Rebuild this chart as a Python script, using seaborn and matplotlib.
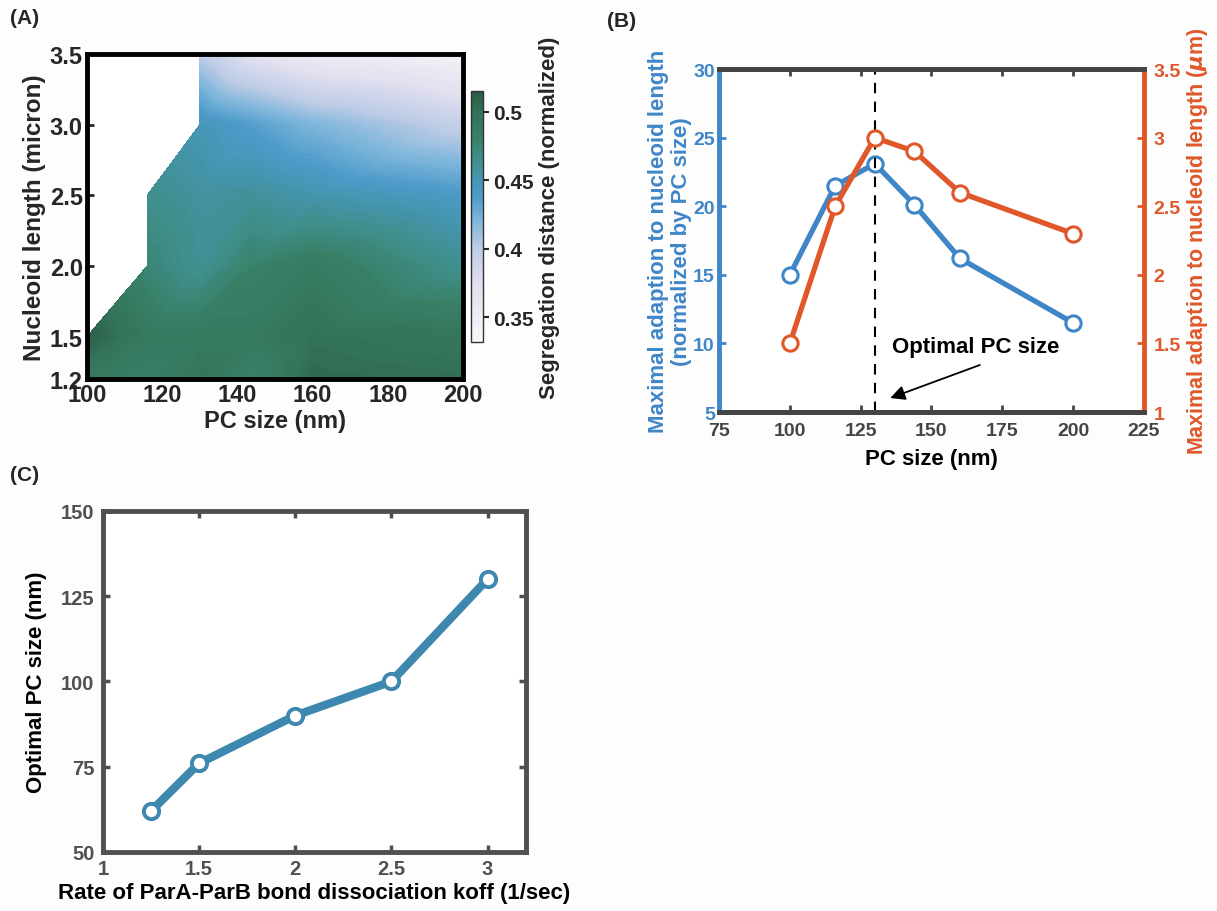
import numpy as np
import matplotlib
matplotlib.use("Agg")
import matplotlib.pyplot as plt
import matplotlib.tri as mtri
from matplotlib.colors import LinearSegmentedColormap
import seaborn as sns

sns.set_style("ticks")
plt.rcParams['font.family'] = ['Liberation Sans', 'DejaVu Sans']
plt.rcParams['font.weight'] = 'bold'
plt.rcParams['axes.labelweight'] = 'bold'
plt.rcParams['mathtext.default'] = 'it'

# ---- data ----
# (A) segregation distance map, rows = nucleoid length, cols = PC size
pc_size_a = [100, 116, 130, 144, 160, 200]
nucleoid_len = [1.2, 1.5, 2.0, 2.5, 3.0, 3.5]
seg_dist = [
    [0.490, 0.485, 0.495, 0.480, 0.505, 0.502],
    [0.512, 0.490, 0.490, 0.490, 0.500, 0.495],
    [np.nan, 0.475, 0.462, 0.480, 0.488, 0.464],
    [np.nan, 0.465, 0.458, 0.460, 0.452, 0.440],
    [np.nan, np.nan, 0.448, 0.435, 0.420, 0.395],
    [np.nan, np.nan, 0.400, 0.370, 0.355, 0.342],
]

# (B) maximal adaption vs PC size
pc_size_b = [100, 116, 130, 144, 160, 200]
adapt_norm = [15.0, 21.5, 23.1, 20.1, 16.2, 11.5]
adapt_um = [1.5, 2.5, 3.0, 2.9, 2.6, 2.3]
optimal_pc = 130

# (C) optimal PC size vs koff
koff = [1.25, 1.5, 2.0, 2.5, 3.0]
optimal_size = [62, 76, 90, 100, 130]

blue = '#3f86c8'
orange = '#e0582a'
steel = '#3e88b0'
dark = '#454545'

fig = plt.figure(figsize=(12.17, 9.12), dpi=100, facecolor='#fdfdfd')

# ---------- panel A ----------
axA = fig.add_axes([0.0715, 0.5833, 0.309, 0.3564])
X, Y = np.meshgrid(pc_size_a, nucleoid_len)
Z = np.array(seg_dist)
nr, nc = Z.shape
idx = np.arange(nr * nc).reshape(nr, nc)
tris = []
for r in range(nr - 1):
    for c in range(nc - 1):
        tris.append([idx[r, c], idx[r, c + 1], idx[r + 1, c + 1]])
        tris.append([idx[r, c], idx[r + 1, c + 1], idx[r + 1, c]])
tris = np.array(tris)
zf = Z.ravel()
tri = mtri.Triangulation(X.ravel(), Y.ravel(), tris)
tri.set_mask(np.isnan(zf[tris]).any(axis=1))
zfill = np.where(np.isnan(zf), np.nanmean(zf), zf)

cmap = LinearSegmentedColormap.from_list("seg", [
    (0.00, '#f9f7fa'), (0.22, '#e4e1f0'), (0.38, '#bccbe6'),
    (0.48, '#7fb6db'), (0.58, '#4d9bcb'), (0.66, '#4594ac'),
    (0.73, '#3f8f8c'), (0.82, '#387f66'), (0.92, '#327258'),
    (1.00, '#295b43')])
vmin, vmax = 0.332, 0.515
levels = np.linspace(vmin, vmax, 80)
cs = axA.tricontourf(tri, np.clip(zfill, vmin, vmax), levels=levels, cmap=cmap,
                     vmin=vmin, vmax=vmax)
axA.set_xlim(100, 200)
axA.set_ylim(1.2, 3.5)
axA.set_xticks([100, 120, 140, 160, 180, 200])
axA.set_yticks([1.2, 1.5, 2.0, 2.5, 3.0, 3.5])
axA.set_yticklabels(['1.2', '1.5', '2.0', '2.5', '3.0', '3.5'])
for s in axA.spines.values():
    s.set_linewidth(3.5)
    s.set_color('black')
axA.tick_params(direction='in', width=2, length=5, labelsize=17, pad=3)
axA.set_xlabel('PC size (nm)', fontsize=17, labelpad=2)
axA.set_ylabel('Nucleoid length (micron)', fontsize=17.5, labelpad=3)

cax = fig.add_axes([0.387, 0.6239, 0.00986, 0.2752])
cb = fig.colorbar(cs, cax=cax, ticks=[0.35, 0.4, 0.45, 0.5])
cb.ax.set_yticklabels(['0.35', '0.4', '0.45', '0.5'])
cb.ax.tick_params(labelsize=15, width=1.5, length=4, pad=3)
cb.outline.set_linewidth(1)
cb.outline.set_edgecolor('#333333')
cb.set_label('Segregation distance (normalized)', fontsize=16, fontweight='bold',
             labelpad=4)

# ---------- panel B ----------
axB = fig.add_axes([0.5908, 0.5471, 0.3492, 0.3761])
axB2 = axB.twinx()
sns.lineplot(x=pc_size_b, y=adapt_norm, ax=axB, color=blue, linewidth=3.8,
             marker='o', markersize=11, markerfacecolor='white',
             markeredgecolor=blue, markeredgewidth=2.2)
sns.lineplot(x=pc_size_b, y=adapt_um, ax=axB2, color=orange, linewidth=3.8,
             marker='o', markersize=11, markerfacecolor='white',
             markeredgecolor=orange, markeredgewidth=2.2)
axB.axvline(optimal_pc, color='black', linestyle=(0, (5, 4)), linewidth=1.5)
axB.set_xlim(75, 225)
axB.set_ylim(5, 30)
axB2.set_ylim(1, 3.5)
axB.set_xticks(np.arange(75, 226, 25))
axB.set_yticks(np.arange(5, 31, 5))
axB2.set_yticks([1, 1.5, 2, 2.5, 3, 3.5])
axB2.set_yticklabels(['1', '1.5', '2', '2.5', '3', '3.5'])
axB.spines['left'].set_color(blue)
axB.spines['right'].set_visible(False)
axB.spines['top'].set_color(dark)
axB.spines['bottom'].set_color(dark)
axB2.spines['right'].set_color(orange)
axB2.spines['left'].set_visible(False)
axB2.spines['top'].set_color(dark)
axB2.spines['bottom'].set_color(dark)
for s in list(axB.spines.values()) + list(axB2.spines.values()):
    s.set_linewidth(3.5)
axB.tick_params(axis='x', direction='in', colors=dark, labelcolor=dark,
                labelsize=14, width=2, length=5, top=True, pad=7)
axB.tick_params(axis='y', direction='in', colors=blue, labelcolor=blue,
                labelsize=14, width=2, length=5, pad=3)
axB2.tick_params(axis='y', direction='in', colors=orange, labelcolor=orange,
                 labelsize=14, width=2, length=5, pad=7)
axB.set_xlabel('PC size (nm)', fontsize=16, color='black', labelpad=7)
axB.set_ylabel('Maximal adaption to nucleoid length\n(normalized by PC size)',
               fontsize=16, color=blue, labelpad=1, linespacing=1.1)
axB2.set_ylabel(r'Maximal adaption to nucleoid length ($\mu$m)', fontsize=15.5,
                color=orange, labelpad=3)
axB.text(136, 9.8, 'Optimal PC size', fontsize=16, fontweight='bold',
         color='black', va='center', ha='left')
axB.annotate('', xy=(134.5, 5.95), xytext=(168, 8.5),
             arrowprops=dict(arrowstyle='-|>', color='black', lw=1.3,
                             mutation_scale=22))

# ---------- panel C ----------
axC = fig.add_axes([0.0846, 0.0647, 0.3476, 0.3739])
sns.lineplot(x=koff, y=optimal_size, ax=axC, color=steel, linewidth=6,
             marker='o', markersize=11, markerfacecolor='white',
             markeredgecolor=steel, markeredgewidth=2.8)
axC.set_xlim(1, 3.2)
axC.set_ylim(50, 150)
axC.set_xticks([1, 1.5, 2, 2.5, 3])
axC.set_xticklabels(['1', '1.5', '2', '2.5', '3'])
axC.set_yticks([50, 75, 100, 125, 150])
for s in axC.spines.values():
    s.set_linewidth(3.5)
    s.set_color('#505050')
axC.tick_params(direction='in', colors='#505050', labelcolor='#505050',
                labelsize=14.5, width=2.5, length=5, top=True, right=True)
axC.tick_params(axis='x', pad=5)
axC.tick_params(axis='y', pad=6)
axC.set_xlabel('Rate of ParA-ParB bond dissociation koff (1/sec)', fontsize=16,
               color='black', labelpad=3)
axC.set_ylabel('Optimal PC size (nm)', fontsize=16, color='black', labelpad=10)

# panel letters
fig.text(0.008, 0.990, '(A)', fontsize=15, fontweight='bold', va='top')
fig.text(0.499, 0.987, '(B)', fontsize=15, fontweight='bold', va='top')
fig.text(0.008, 0.489, '(C)', fontsize=15, fontweight='bold', va='top')

fig.savefig('out.png', dpi=100, facecolor=fig.get_facecolor())
